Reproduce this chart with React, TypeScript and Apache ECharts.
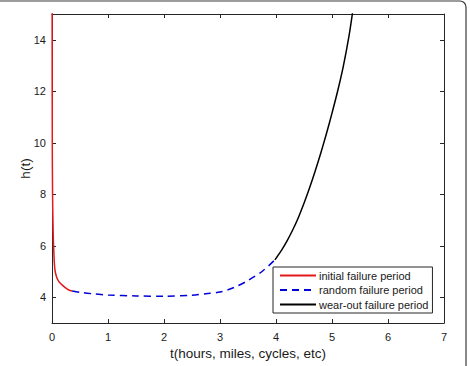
import React, { useEffect, useRef } from "react";
import * as echarts from "echarts";

const initialT = [0.002, 0.005, 0.01, 0.02, 0.03, 0.05, 0.08, 0.12, 0.17, 0.23, 0.3, 0.36];
const initialH = [15.5, 10, 8, 6.6, 5.9, 5.1, 4.8, 4.62, 4.5, 4.38, 4.28, 4.24];

const randomT = [0.36, 0.5, 0.75, 1.0, 1.5, 2.0, 2.5, 2.75, 3.0, 3.25, 3.5, 3.75, 3.98];
const randomH = [4.24, 4.19, 4.13, 4.09, 4.05, 4.04, 4.08, 4.14, 4.2, 4.38, 4.65, 5.0, 5.45];

const wearT = [3.98, 4.1, 4.2, 4.3, 4.4, 4.5, 4.6, 4.7, 4.8, 4.9, 5.0, 5.1, 5.2, 5.3, 5.37];
const wearH = [5.45, 5.83, 6.2, 6.62, 7.1, 7.65, 8.25, 8.9, 9.6, 10.35, 11.15, 12.0, 12.95, 14.1, 15.1];

const yTicks = [4, 6, 8, 10, 12, 14];
const legendNames = ["initial failure period", "random failure period", "wear-out failure period"];

const zip = (a: number[], b: number[]) => a.map((v, i) => [v, b[i]]);

export default function App() {
  const ref = useRef<HTMLDivElement>(null);
  useEffect(() => {
    if (!ref.current) return;
    const chart = echarts.init(ref.current, null, { renderer: "svg" });
    const axisColor = "#262626";
    const font = "'Liberation Sans', Arial, Helvetica, sans-serif";
    chart.setOption({
      animation: false,
      backgroundColor: "#ffffff",
      textStyle: { fontFamily: font },
      grid: { left: 52, top: 14, width: 392, height: 309, containLabel: false },
      graphic: [
        {
          type: "rect",
          shape: { x: -20, y: 1, width: 486, height: 420, r: 6 },
          style: { fill: "none", stroke: "#3a3a3a", lineWidth: 1.2 },
          silent: true,
          z: 100,
        },
      ],
      legend: {
        orient: "vertical",
        left: 273,
        top: 267,
        data: legendNames,
        itemWidth: 36,
        itemHeight: 10,
        itemGap: 3.5,
        padding: [3, 4, 3, 6],
        borderColor: axisColor,
        borderWidth: 1,
        backgroundColor: "#ffffff",
        itemStyle: { opacity: 0 },
        textStyle: { fontFamily: font, fontSize: 11, color: "#1a1a1a", padding: [0, 0, 0, -2] },
      },
      xAxis: [
        {
          type: "value",
          min: 0,
          max: 7,
          interval: 1,
          name: "t(hours, miles, cycles, etc)",
          nameLocation: "middle",
          nameGap: 23,
          nameMoveOverlap: false,
          nameTextStyle: { fontFamily: font, fontSize: 13.5, color: "#1a1a1a" },
          axisLine: { show: true, onZero: false, lineStyle: { color: axisColor, width: 1 } },
          axisTick: { show: true, inside: true, length: 4, lineStyle: { color: axisColor } },
          axisLabel: { fontFamily: font, fontSize: 11, color: "#1a1a1a", margin: 8 },
          splitLine: { show: false },
        },
        {
          type: "value",
          position: "top",
          min: 0,
          max: 7,
          interval: 1,
          axisLine: { show: true, onZero: false, lineStyle: { color: axisColor, width: 1 } },
          axisTick: { show: true, inside: true, length: 4, lineStyle: { color: axisColor } },
          axisLabel: { show: false },
          splitLine: { show: false },
        },
      ],
      yAxis: [
        {
          type: "value",
          min: 3,
          max: 15,
          name: "h(t)",
          nameLocation: "middle",
          nameGap: 20,
          nameMoveOverlap: false,
          nameRotate: 90,
          nameTextStyle: { fontFamily: font, fontSize: 13.5, color: "#1a1a1a" },
          axisLine: { show: true, onZero: false, lineStyle: { color: axisColor, width: 1 } },
          axisTick: { show: true, inside: true, length: 4, customValues: yTicks, lineStyle: { color: axisColor } },
          axisLabel: { fontFamily: font, fontSize: 11, color: "#1a1a1a", margin: 6, customValues: yTicks },
          splitLine: { show: false },
        },
        {
          type: "value",
          position: "right",
          min: 3,
          max: 15,
          axisLine: { show: true, onZero: false, lineStyle: { color: axisColor, width: 1 } },
          axisTick: { show: true, inside: true, length: 4, customValues: yTicks, lineStyle: { color: axisColor } },
          axisLabel: { show: false },
          splitLine: { show: false },
        },
      ],
      series: [
        {
          name: legendNames[0],
          type: "line",
          data: zip(initialT, initialH),
          smooth: 0.3,
          symbol: "none",
          clip: true,
          lineStyle: { color: "#e5191a", width: 1.5, type: "solid" },
          itemStyle: { color: "#e5191a" },
        },
        {
          name: legendNames[1],
          type: "line",
          data: zip(randomT, randomH),
          smooth: 0.3,
          symbol: "none",
          clip: true,
          lineStyle: { color: "#0000d8", width: 1.5, type: [7, 5] },
          itemStyle: { color: "#0000d8" },
        },
        {
          name: legendNames[2],
          type: "line",
          data: zip(wearT, wearH),
          smooth: 0.3,
          symbol: "none",
          clip: true,
          lineStyle: { color: "#000000", width: 1.5, type: "solid" },
          itemStyle: { color: "#000000" },
        },
      ],
    });
    return () => chart.dispose();
  }, []);
  return <div ref={ref} style={{ width: 470, height: 366, position: "absolute", left: 0, top: 0 }} />;
}
